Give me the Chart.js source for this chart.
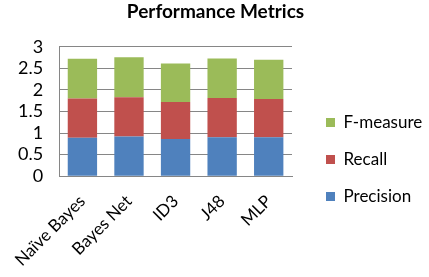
<!DOCTYPE html>
<html>
<head>
<meta charset="utf-8">
<script src="https://cdn.jsdelivr.net/npm/chart.js@4"></script>
<style>
  html, body { margin: 0; padding: 0; background: #fff; }
  #wrap { width: 429px; height: 277px; }
</style>
</head>
<body>
<div id="wrap"><canvas id="chart"></canvas></div>
<script>
const categories = ['Naïve Bayes', 'Bayes Net', 'ID3', 'J48', 'MLP'];
const precision = [0.89, 0.92, 0.86, 0.90, 0.90];
const recall = [0.91, 0.91, 0.86, 0.91, 0.89];
const fMeasure = [0.92, 0.93, 0.89, 0.92, 0.91];

const FONT = 'Lato, "Open Sans", sans-serif';

// fixed legend width, and push the items a bit to the right of the plot
const legendPlace = {
    id: 'legendPlace',
    beforeInit(chart) {
        const fit = chart.legend.fit;
        chart.legend.fit = function() {
            fit.call(this);
            this.width = 137;
        };
    },
    afterLayout(chart) {
        chart.legend.left += 14;
        chart.legend.right += 14;
    }
};

const ctx = document.getElementById('chart').getContext('2d');
new Chart(ctx, {
    type: 'bar',
    data: {
        labels: categories,
        datasets: [
            { label: 'Precision', data: precision, backgroundColor: '#4F81BD' },
            { label: 'Recall', data: recall, backgroundColor: '#C0504D' },
            { label: 'F-measure', data: fMeasure, backgroundColor: '#9BBB59' }
        ]
    },
    options: {
        responsive: true,
        maintainAspectRatio: false,
        animation: false,
        datasets: {
            bar: { barPercentage: 0.63, categoryPercentage: 1 }
        },
        layout: { padding: { left: 2, right: 0, top: 0, bottom: 0 } },
        plugins: {
            title: {
                display: true,
                text: 'Performance Metrics',
                color: '#000',
                font: { family: FONT, size: 19, weight: 'bold' },
                padding: { top: 0, bottom: 24 }
            },
            legend: {
                position: 'right',
                reverse: true,
                title: { display: true, text: ' ', font: { size: 10 }, padding: { top: 30, bottom: 0 } },
                labels: {
                    color: '#000',
                    font: { family: FONT, size: 17 },
                    boxWidth: 9,
                    boxHeight: 9,
                    padding: 20
                }
            },
            tooltip: { enabled: false }
        },
        scales: {
            x: {
                stacked: true,
                grid: { display: false },
                border: { color: '#868686' },
                ticks: {
                    color: '#000',
                    font: { family: FONT, size: 17 },
                    maxRotation: 45,
                    minRotation: 45,
                    padding: 7
                }
            },
            y: {
                stacked: true,
                min: 0,
                max: 3,
                grid: { color: '#868686', drawTicks: false },
                border: { color: '#868686' },
                ticks: {
                    color: '#000',
                    stepSize: 0.5,
                    autoSkip: false,
                    font: { family: FONT, size: 18 },
                    padding: 16,
                    callback: v => String(v)
                }
            }
        }
    },
    plugins: [legendPlace]
});
</script>
</body>
</html>
